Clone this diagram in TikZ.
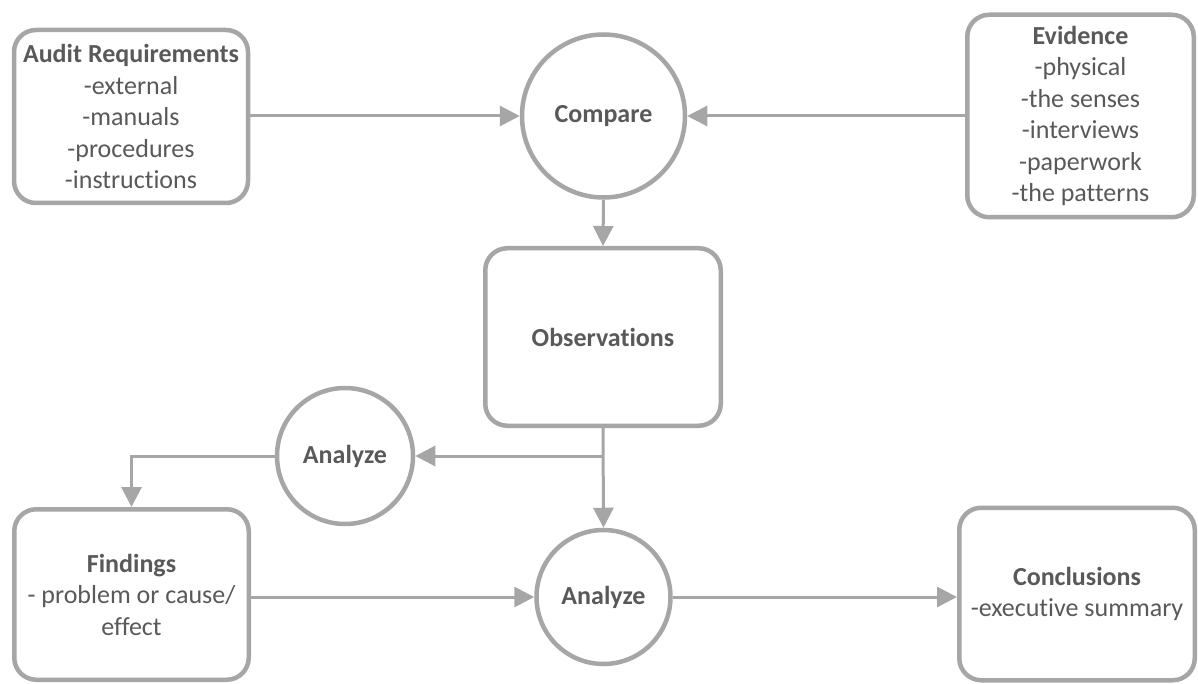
\documentclass[tikz,border=0pt]{standalone}
\usepackage{fontspec}
\setmainfont{Carlito}[Ligatures={NoCommon}]
\usetikzlibrary{arrows.meta}
\definecolor{bordc}{HTML}{A6A6A6}
\definecolor{textc}{HTML}{595959}
\begin{document}
\begin{tikzpicture}[x=1pt,y=-1pt,
  box/.style={draw=bordc, line width=4.5pt, rounded corners=22pt, fill=white,
    align=center, inner sep=0pt, text=textc, font=\fontsize{26}{31.5}\selectfont},
  circ/.style={circle, draw=bordc, line width=4.5pt, fill=white, inner sep=0pt,
    text=textc, font=\fontsize{26}{31.5}\selectfont\bfseries},
  conn/.style={draw=bordc, line width=3pt, -{Triangle[length=20pt,width=20pt]}},
  plain/.style={draw=bordc, line width=3pt}]
\useasboundingbox (0,0) rectangle (1198,684);
\node[box, minimum width=234pt, minimum height=173pt] (audit) at (131,116.5)
  {\textbf{Audit Requirements}\\-external\\-manuals\\-procedures\\-instructions};
\node[box, minimum width=226.5pt, minimum height=202.5pt] (evid) at (1080.5,116)
  {\textbf{Evidence}\\-physical\\-the senses\\-interviews\\-paperwork\\-the patterns};
\node[circ, minimum size=163pt] (comp) at (603.5,116) {Compare};
\node[box, minimum width=235.5pt, minimum height=177.5pt] (obs) at (603,337)
  {\textbf{Observations}};
\node[circ, minimum size=136pt] (an1) at (345,456) {Analyze};
\node[circ, minimum size=134pt] (an2) at (603.5,597) {Analyze};
\node[box, minimum width=234.5pt, minimum height=170.5pt] (find) at (131.5,594.5)
  {\textbf{Findings}\\- problem or cause/\\effect};
\node[box, minimum width=235.5pt, minimum height=172.5pt] (concl) at (1077,594)
  {\textbf{Conclusions}\\-executive summary};
\draw[conn] (audit.east |- comp.west) -- (comp.west);
\draw[conn] (evid.west |- comp.east) -- (comp.east);
\draw[conn] (comp.south) -- (obs.north);
\draw[conn] (obs.south) -- (an2.north);
\coordinate (j) at (obs.south |- an1.east);
\draw[conn] (j) -- (an1.east);
\draw[conn] (an1.west) -| (find.north);
\draw[conn] (find.east |- an2.west) -- (an2.west);
\draw[conn] (an2.east) -- (concl.west |- an2.east);
\end{tikzpicture}
\end{document}
